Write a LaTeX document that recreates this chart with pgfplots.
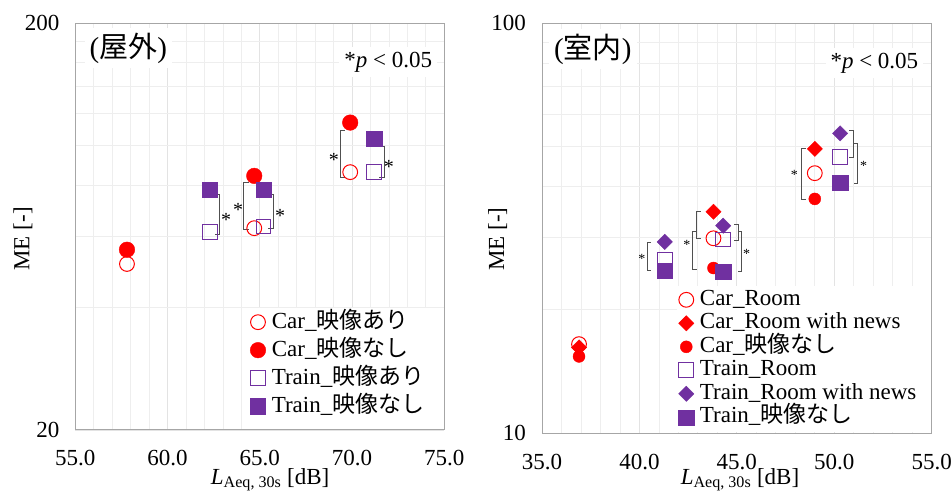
\documentclass[border=0pt]{standalone}
\usepackage{fontspec}
\setmainfont{Liberation Serif}
\newfontfamily\jp{Noto Sans CJK JP}
\usepackage{pgfplots}
\pgfplotsset{compat=1.18}
\definecolor{cred}{HTML}{FF0000}
\definecolor{cpur}{HTML}{7030A0}
\definecolor{brk}{HTML}{505050}
\newcommand{\br}[4]{\draw[brk, line width=0.9pt] (axis cs:#1,#2) ++(#4,0pt) -- (axis cs:#1,#2) -- (axis cs:#1,#3) -- ++(#4,0pt);}
\pgfplotsset{
 mystyle/.style={
  scale only axis,
  axis line style={draw=gray!70, line width=1pt},
  major tick length=0pt, minor tick length=0pt,
  grid=both,
  major grid style={draw=gray!22, line width=0.8pt},
  minor grid style={draw=gray!13, line width=0.8pt},
  /pgf/number format/assume math mode=true,
  tick label style={font=\fontsize{23}{23}\selectfont},
  xticklabel style={/pgf/number format/fixed, /pgf/number format/fixed zerofill, /pgf/number format/precision=1, yshift=-17pt},
  yticklabel style={xshift=-12.5pt},
  label style={font=\fontsize{23}{23}\selectfont},
  legend cell align=left,
  legend style={draw=none, fill=white, inner sep=2pt, font=\fontsize{23}{23}\selectfont, column sep=5pt,
    nodes={inner sep=1pt, text height=17pt, text depth=5pt}},
 },
 ocirc/.style={only marks, mark=o, mark size=7.4pt, color=cred, mark options={line width=1pt}},
 fcirc/.style={only marks, mark=*, mark size=7.8pt, color=cred, mark options={fill=cred, draw=cred}},
 osq/.style={only marks, mark=square, mark size=7.4pt, color=cpur, mark options={line width=1pt}},
 fsq/.style={only marks, mark=square*, mark size=7.6pt, color=cpur, mark options={fill=cpur, draw=cpur}},
 rdia/.style={only marks, mark=square*, mark size=5.4pt, color=cred, mark options={rotate=45, fill=cred, draw=cred}},
 pdia/.style={only marks, mark=square*, mark size=5.4pt, color=cpur, mark options={rotate=45, fill=cpur, draw=cpur}},
}
\begin{document}
\begin{tikzpicture}
% ---------------- left: outdoor ----------------
\begin{axis}[mystyle, ymode=log,
  at={(75.3pt,61pt)}, anchor=south west,
  width=369pt, height=406.7pt,
  xmin=55, xmax=75, ymin=20, ymax=200,
  xtick={55,60,...,75}, minor x tick num=4,
  ytick={20,200}, yticklabels={20,200},
  minor ytick={40,60,80,100,120,140,160,180},
  xlabel={\textit{L}\textsubscript{Aeq, 30s} [dB]},
  ylabel={ME [-]},
  xlabel style={at={(axis description cs:0.528,-0.133)}, anchor=base},
  ylabel style={at={(axis description cs:-0.142,0.47)}, anchor=center},
  legend style={at={(axis description cs:0.468,0.30)}, anchor=north west, row sep=4pt},
]
\fill[white] ([xshift=1pt,yshift=1pt]axis description cs:0.468,0) rectangle ([xshift=-1pt,yshift=-1pt]axis description cs:1,0.30);
\node[fill=white, inner sep=5pt, anchor=west, font=\fontsize{29}{29}\selectfont] at (axis description cs:0.025,0.939) {({\jp 屋外})};
\node[fill=white, inner sep=5pt, anchor=west, font=\fontsize{23}{23}\selectfont] at (axis description cs:0.715,0.905) {*\textit{p} < 0.05};
\br{62.84}{75.7}{60.4}{-5pt}
\node[font=\fontsize{20}{20}\selectfont, inner sep=0pt, yshift=-3pt] at (axis cs:63.18,66.9) {*};
\br{64.14}{81.0}{62.1}{5pt}
\node[font=\fontsize{20}{20}\selectfont, inner sep=0pt, yshift=-3pt] at (axis cs:63.82,70.7) {*};
\br{65.72}{75.7}{62.5}{-5pt}
\node[font=\fontsize{20}{20}\selectfont, inner sep=0pt, yshift=-3pt] at (axis cs:66.10,68.4) {*};
\br{69.35}{108.8}{83.4}{5pt}
\node[font=\fontsize{20}{20}\selectfont, inner sep=0pt, yshift=-3pt] at (axis cs:69.01,93.9) {*};
\br{71.73}{99.4}{83.4}{-5pt}
\node[font=\fontsize{20}{20}\selectfont, inner sep=0pt, yshift=-3pt] at (axis cs:72.0,90.2) {*};
\addplot[ocirc] coordinates {(57.8,51.2) (64.7,62.7) (69.9,86.1)};
\addlegendentry{Car\_{\jp 映像あり}}
\addplot[fcirc] coordinates {(57.8,55.5) (64.7,84.3) (69.9,114.0)};
\addlegendentry{Car\_{\jp 映像なし}}
\addplot[osq] coordinates {(62.3,61.3) (65.2,63.3) (71.2,86.1)};
\addlegendentry{Train\_{\jp 映像あり}}
\addplot[fsq] coordinates {(62.3,77.8) (65.2,77.8) (71.2,103.9)};
\addlegendentry{Train\_{\jp 映像なし}}
\end{axis}
% ---------------- right: indoor ----------------
\begin{axis}[mystyle, ymode=log,
  at={(542pt,57.7pt)}, anchor=south west,
  width=389.7pt, height=410pt,
  xmin=35, xmax=55, ymin=10, ymax=100,
  xtick={35,40,...,55}, minor x tick num=4,
  ytick={10,100}, yticklabels={10,100},
  minor ytick={20,30,40,50,60,70,80,90},
  xlabel={\textit{L}\textsubscript{Aeq, 30s} [dB]},
  ylabel={ME [-]},
  xlabel style={at={(axis description cs:0.508,-0.124)}, anchor=base},
  ylabel style={at={(axis description cs:-0.114,0.474)}, anchor=center},
  legend style={at={(axis description cs:0.345,0.359)}, anchor=north west, row sep=0.5pt,
    nodes={inner sep=1pt, text height=16pt, text depth=5pt}},
]
\fill[white] ([xshift=1pt,yshift=1pt]axis description cs:0.345,0) rectangle ([xshift=-1pt,yshift=-1pt]axis description cs:1,0.36);
\node[fill=white, inner sep=5pt, anchor=west, font=\fontsize{29}{29}\selectfont] at (axis description cs:0.018,0.937) {({\jp 室内})};
\node[fill=white, inner sep=5pt, anchor=west, font=\fontsize{23}{23}\selectfont] at (axis description cs:0.727,0.903) {*\textit{p} < 0.05};
\br{40.39}{29.2}{24.9}{4pt}
\node[font=\fontsize{14}{14}\selectfont, inner sep=0pt, yshift=-2pt] at (axis cs:40.12,26.95) {*};
\br{42.95}{34.8}{29.9}{4pt}
\br{42.73}{31.0}{25.1}{4pt}
\node[font=\fontsize{14}{14}\selectfont, inner sep=0pt, yshift=-2pt] at (axis cs:42.44,29.2) {*};
\br{45.07}{32.3}{29.6}{-4pt}
\br{45.26}{31.0}{24.8}{-4pt}
\node[font=\fontsize{14}{14}\selectfont, inner sep=0pt, yshift=-2pt] at (axis cs:45.50,27.7) {*};
\br{48.34}{49.4}{37.1}{4pt}
\node[font=\fontsize{14}{14}\selectfont, inner sep=0pt, yshift=-2pt] at (axis cs:47.95,43.1) {*};
\br{50.97}{54.7}{47.0}{-4pt}
\br{51.20}{51.0}{40.7}{-4pt}
\node[font=\fontsize{14}{14}\selectfont, inner sep=0pt, yshift=-2pt] at (axis cs:51.50,45.4) {*};
\addplot[ocirc] coordinates {(36.9,16.5) (43.8,29.9) (49.0,43.1)};
\addlegendentry{Car\_Room}
\addplot[rdia] coordinates {(36.9,16.2) (43.8,34.7) (49.0,49.4)};
\addlegendentry{Car\_Room with news}
\addplot[fcirc, mark size=6pt] coordinates {(36.9,15.4) (43.8,25.3) (49.0,37.3)};
\addlegendentry{Car\_{\jp 映像なし}}
\addplot[osq] coordinates {(41.3,26.5) (44.3,29.7) (50.3,47.3)};
\addlegendentry{Train\_Room}
\addplot[pdia] coordinates {(41.3,29.3) (44.3,32.1) (50.3,53.9)};
\addlegendentry{Train\_Room with news}
\addplot[fsq] coordinates {(41.3,24.9) (44.3,24.8) (50.3,40.9)};
\addlegendentry{Train\_{\jp 映像なし}}
\end{axis}
\pgfresetboundingbox
\path[use as bounding box] (0,0) rectangle (952pt,491pt);
\end{tikzpicture}
\end{document}
